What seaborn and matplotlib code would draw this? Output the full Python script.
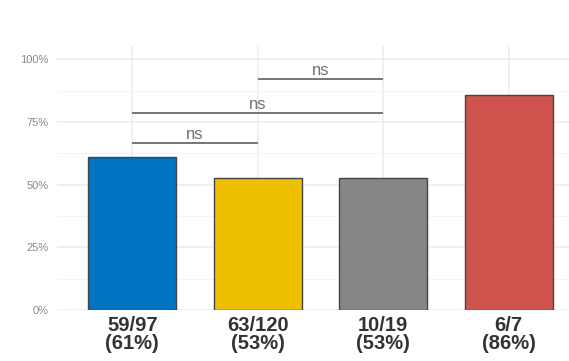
import numpy as np
import pandas as pd
import matplotlib
matplotlib.use("Agg")
import matplotlib.pyplot as plt
import seaborn as sns

# data
groups = ["A", "B", "C", "D"]
successes = [59, 63, 10, 6]
totals = [97, 120, 19, 7]
pct_labels = ["61%", "53%", "53%", "86%"]
colors = ["#0073C2", "#EFC000", "#868686", "#CD534C"]

# pairwise comparisons (group index i, group index j, height, label)
comp_left = [0, 0, 1]
comp_right = [1, 2, 2]
comp_height = [0.665, 0.785, 0.92]
comp_label = ["ns", "ns", "ns"]

df = pd.DataFrame({"group": groups, "n": successes, "total": totals})
df["prop"] = df["n"] / df["total"]
tick_labels = [f"{n}/{t}\n({p})" for n, t, p in zip(successes, totals, pct_labels)]

sns.set_style("white")
plt.rcParams["font.family"] = ["Liberation Sans", "DejaVu Sans"]

fig = plt.figure(figsize=(5.69, 3.61), dpi=100)
ax = fig.add_axes([0.1, 0.141, 0.9, 0.7313])

sns.barplot(data=df, x="group", y="prop", hue="group", palette=colors,
            saturation=1, width=0.7, edgecolor="#444444", linewidth=1,
            legend=False, ax=ax, zorder=3)

ax.set_xlim(-0.6, 3.48)
ax.set_ylim(0, 1.052)

# grid
ax.set_yticks([0, 0.25, 0.5, 0.75, 1.0])
ax.set_yticks([0.125, 0.375, 0.625, 0.875], minor=True)
ax.set_yticklabels(["0%", "25%", "50%", "75%", "100%"])
ax.grid(axis="y", which="major", color="#ececec", linewidth=1.1, zorder=0)
ax.grid(axis="y", which="minor", color="#f4f4f4", linewidth=0.7, zorder=0)
ax.grid(axis="x", which="major", color="#ececec", linewidth=1.1, zorder=0)
ax.set_axisbelow(True)

ax.set_xticks(range(len(groups)))
ax.set_xticklabels(tick_labels, fontsize=14.5, fontweight="bold", color="#333333",
                   linespacing=0.95)
ax.tick_params(axis="x", length=0, pad=4)
ax.tick_params(axis="y", which="both", length=0, pad=6, labelsize=8, labelcolor="#8a8a8a")

for s in ax.spines.values():
    s.set_visible(False)
ax.set_xlabel("")
ax.set_ylabel("")

# significance brackets
for i, j, h, lab in zip(comp_left, comp_right, comp_height, comp_label):
    ax.plot([i, j], [h, h], color="#6b6b6b", linewidth=1.3, zorder=4, solid_capstyle="butt")
    ax.text((i + j) / 2, h + 0.005, lab, ha="center", va="bottom", fontsize=12,
            color="#707070", zorder=4)

fig.savefig("out.png", dpi=100)
